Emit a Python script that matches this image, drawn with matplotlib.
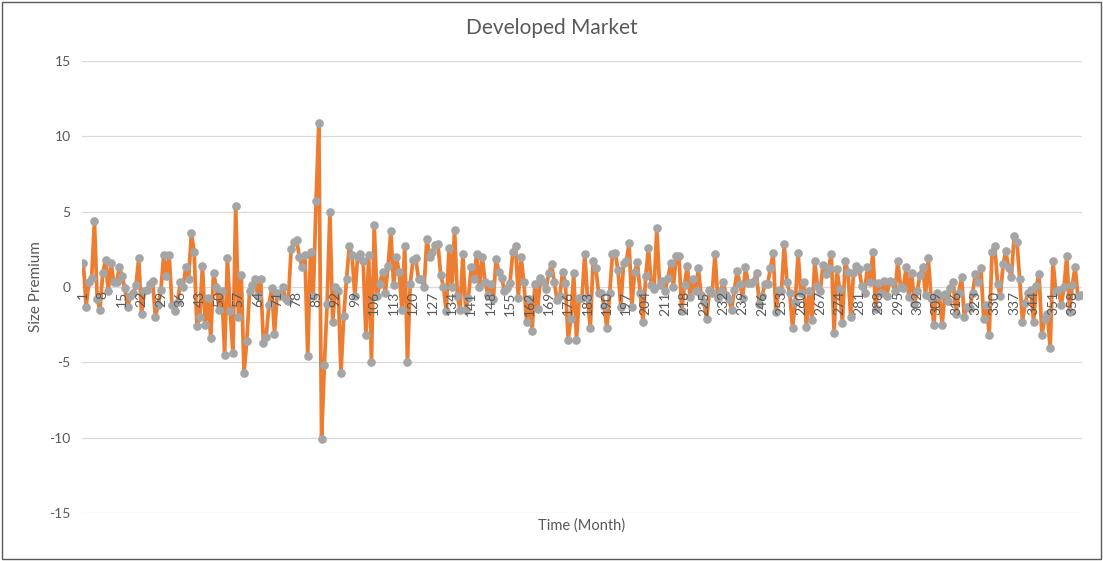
import matplotlib
matplotlib.use("Agg")
import matplotlib.pyplot as plt
from matplotlib.patches import Rectangle

# monthly size premium (%), months 1..361
size_premium = [
    1.6, -1.3, 0.3, 0.6, 4.4, -0.8, -1.5, 0.9, 1.8, -0.3,
    1.6, 0.3, 0.3, 1.3, 0.7, -0.1, -1.3, -0.6, -0.4, 0.1,
    1.9, -1.8, -0.3, -0.2, 0.2, 0.4, -2.0, -1.2, -0.2, 2.1,
    0.7, 2.1, -1.2, -1.6, -1.0, 0.3, 0.0, 1.35, 0.5, 3.6,
    2.3, -2.6, -2.0, 1.4, -2.5, -0.7, -3.4, 0.9, 0.0, -1.5,
    -0.3, -4.5, 1.9, -1.6, -4.4, 5.4, -2.0, 0.8, -5.7, -3.6,
    -0.3, 0.1, 0.5, -0.6, 0.5, -3.7, -3.3, -1.2, -0.1, -3.1,
    -0.4, -0.6, 0.0, -0.8, -0.9, 2.5, 3.0, 3.1, 2.0, 1.3,
    2.1, -4.6, 2.3, -0.6, 5.7, 10.9, -10.1, -5.2, -1.1, 5.0,
    -2.3, 0.0, -0.3, -5.7, -1.9, 0.5, 2.7, 2.1, -0.6, 2.0,
    2.2, 1.7, -3.2, 2.1, -5.0, 4.1, -0.6, 0.2, 1.0, -0.4,
    1.4, 3.7, 0.1, 2.0, 1.0, -1.5, 2.7, -5.0, 0.2, 1.8,
    1.9, 0.5, 0.5, 0.0, 3.2, 2.0, 2.3, 2.8, 2.85, 0.8,
    0.0, -1.6, 2.6, 0.0, 3.8, -0.6, -1.5, 2.2, -1.5, -0.7,
    1.3, 0.5, 2.2, 0.0, 2.0, 0.35, -0.5, 0.2, -0.8, 1.85,
    1.0, 0.6, -0.25, -0.1, 0.25, 2.3, 2.75, -0.7, 2.0, 0.35,
    -2.3, -0.8, -2.9, 0.2, -1.46, 0.6, 0.35, -0.13, 0.9, 1.5,
    0.3, -0.86, -0.6, 1.0, 0.25, -3.5, -2.1, 0.9, -3.5, -0.75,
    -0.75, 2.2, -0.75, -2.75, 1.7, 1.24, -0.4, -0.4, -1.26, -2.75,
    -0.4, 2.2, 2.25, 1.1, -1.3, 1.57, 1.72, 2.9, -1.3, 0.97,
    1.64, -0.4, -2.34, 0.7, 2.6, 0.13, -0.15, 3.9, 0.13, 0.4,
    -0.27, 0.6, 1.57, 0.0, 2.06, 2.06, -1.6, 0.13, 1.4, -0.64,
    0.5, -0.3, 1.24, -0.53, -1.0, -2.14, -0.2, -0.4, 2.17, -0.7,
    -0.3, 0.3, -0.53, -0.8, -1.5, -0.2, 1.06, 0.2, -0.7, 1.3,
    0.25, 0.25, 0.4, 0.9, -1.13, -0.6, 0.2, 0.2, 1.24, 2.24,
    -1.68, -0.2, -0.25, 2.85, 0.3, -0.42, -2.7, -1.0, 2.24, -0.4,
    0.3, -2.68, -0.3, -2.2, 1.7, 0.07, -0.3, 1.46, 0.86, 1.24,
    2.17, -3.03, 1.17, -0.15, -2.37, 1.72, 1.0, -2.0, 0.9, 1.4,
    1.17, 0.07, -0.4, 1.3, 0.35, 2.35, -1.46, 0.29, -0.4, 0.4,
    -0.6, 0.4, 0.35, -0.3, 1.7, 0.0, -0.1, 1.3, -0.68, 0.95,
    -1.1, -0.3, 0.8, 1.3, -0.53, 1.9, -0.7, -2.5, -0.38, -0.6,
    -2.5, -0.46, -0.9, -0.1, 0.3, -1.8, -0.4, 0.68, -1.97, -1.3,
    -1.4, -0.38, 0.84, 0.35, 1.28, -2.1, -1.2, -3.2, 2.35, 2.72,
    0.2, -0.6, 1.5, 2.39, 1.24, 0.68, 3.38, 3.0, 0.5, -2.3,
    -1.04, -0.38, -0.2, -2.3, 0.07, 0.84, -3.2, -2.1, -1.8, -4.07,
    1.75, -0.25, -0.2, -1.2, 0.0, 2.08, -1.64, 0.13, 1.35, -0.6, -0.53,
]
months = list(range(1, len(size_premium) + 1))
month_labels = list(range(1, len(size_premium) + 1, 7))
y_ticks = [-15, -10, -5, 0, 5, 10, 15]

plt.rcParams['font.family'] = ['Lato', 'DejaVu Sans']
plt.rcParams['axes.unicode_minus'] = False
txt = '#595959'

fig = plt.figure(figsize=(11.03, 5.61), dpi=100)
ax = fig.add_axes([0.0743, 0.0856, 0.9067, 0.8057])

ax.plot(months, size_premium, color='#ED7D31', lw=2.7, zorder=3,
        marker='o', ms=5.2, mfc='#A5A5A5', mec='#A5A5A5')

ax.set_xlim(0.5, len(size_premium) + 0.5)
ax.set_ylim(-15, 15)
ax.set_yticks(y_ticks)
ax.grid(axis='y', color='#D9D9D9', lw=0.9)
ax.set_axisbelow(True)
for s in ax.spines.values():
    s.set_visible(False)
ax.tick_params(axis='y', length=0, labelsize=10, labelcolor=txt, pad=8)
ax.set_xticks([])

# category labels sit on the zero line, rotated
for m in month_labels:
    ax.annotate(str(m), (m, 0), xytext=(0, -3), textcoords='offset points',
                rotation=90, ha='center', va='top', fontsize=10, color=txt)

fig.text(0.5, 0.95, 'Developed Market', ha='center', va='center', fontsize=15, color=txt)
ax.set_ylabel('Size Premium', fontsize=11, color=txt, labelpad=5)
ax.text(0.5, -0.028, 'Time (Month)', transform=ax.transAxes, ha='center', va='center',
        fontsize=10.5, color=txt)

fig.patches.append(Rectangle((0.002, 0.004), 0.996, 0.992, transform=fig.transFigure,
                             fill=False, ec='#595959', lw=1))

fig.savefig('out.png', dpi=100)
